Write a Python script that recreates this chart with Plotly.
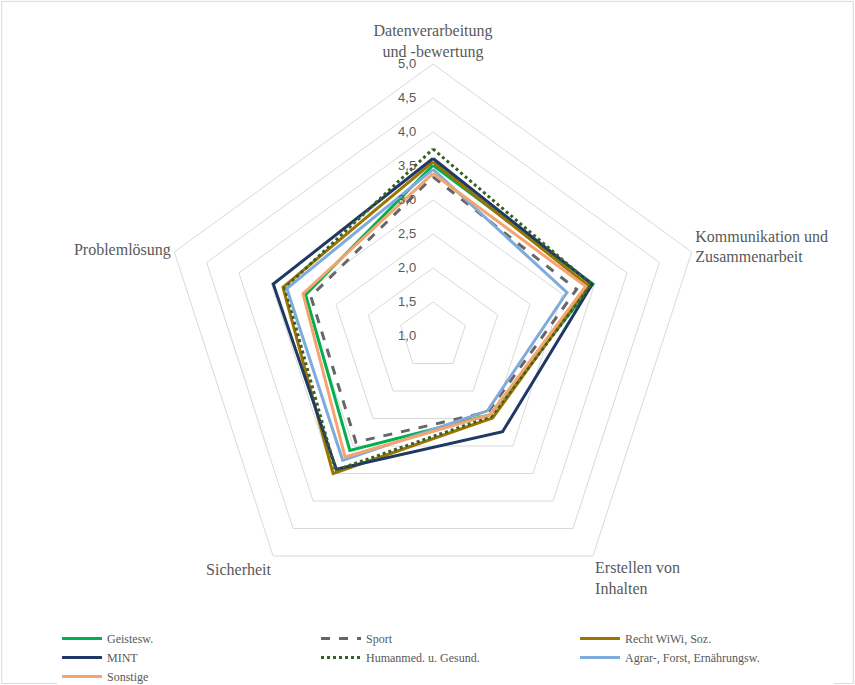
import plotly.graph_objects as go

categories = [
    "Datenverarbeitung<br>und -bewertung",
    "Kommunikation und<br>Zusammenarbeit",
    "Erstellen von<br>Inhalten",
    "Sicherheit",
    "Problemlösung",
]

geistesw = [3.51, 3.47, 2.43, 3.08, 2.97]
sport = [3.34, 3.22, 2.38, 2.93, 2.89]
recht = [3.56, 3.40, 2.49, 3.50, 3.32]
mint = [3.61, 3.46, 2.74, 3.42, 3.47]
humanmed = [3.75, 3.45, 2.46, 3.44, 3.29]
agrar = [3.45, 3.07, 2.36, 3.26, 3.26]
sonstige = [3.39, 3.36, 2.43, 3.20, 3.01]

series = [
    ("Geistesw.", geistesw, "#00B050", "solid"),
    ("Sport", sport, "#666666", "dash"),
    ("Recht WiWi, Soz.", recht, "#9C7400", "solid"),
    ("MINT", mint, "#1F3864", "solid"),
    ("Humanmed. u. Gesund.", humanmed, "#3A5F24", "dot"),
    ("Agrar-, Forst, Ernährungsw.", agrar, "#7FAADC", "solid"),
    ("Sonstige", sonstige, "#F4A46E", "solid"),
]

fig = go.Figure()
for name, vals, color, dash in series:
    fig.add_trace(go.Scatterpolar(
        r=vals + vals[:1],
        theta=categories + categories[:1],
        mode="lines",
        name=name,
        line=dict(color=color, width=3, dash=dash),
    ))

fig.update_layout(
    width=855,
    height=685,
    margin=dict(l=0, r=0, t=0, b=0, autoexpand=False),
    paper_bgcolor="white",
    separators=", ",
    font=dict(family="Liberation Serif", color="#595959"),
    polar=dict(
        domain=dict(x=[0.1883, 0.8246], y=[0.1124, 0.9066]),
        gridshape="linear",
        bgcolor="white",
        radialaxis=dict(
            range=[1, 5],
            tick0=1,
            dtick=0.5,
            tickformat=".1f",
            ticksuffix="\u00a0\u00a0\u00a0\u00a0",
            showline=False,
            ticks="",
            angle=90,
            side="counterclockwise",
            tickangle=90,
            gridcolor="#d9d9d9",
            gridwidth=1,
            tickfont=dict(family="Liberation Sans", size=13, color="#595959"),
        ),
        angularaxis=dict(
            rotation=90,
            direction="clockwise",
            showgrid=False,
            showline=True,
            linecolor="#d9d9d9",
            linewidth=1,
            ticks="",
            tickfont=dict(family="Liberation Serif", size=16, color="#595959"),
        ),
    ),
    legend=dict(
        orientation="h",
        x=0.0667,
        y=0.089,
        xanchor="left",
        yanchor="top",
        itemwidth=40,
        entrywidth=204,
        entrywidthmode="pixels",
        font=dict(family="Liberation Serif", size=12, color="#595959"),
        tracegroupgap=0,
    ),
    shapes=[dict(
        type="rect", xref="paper", yref="paper",
        x0=0.002, x1=0.998, y0=0.002, y1=0.998,
        line=dict(color="#d9d9d9", width=1),
    )],
)

fig.write_html("out.html")
